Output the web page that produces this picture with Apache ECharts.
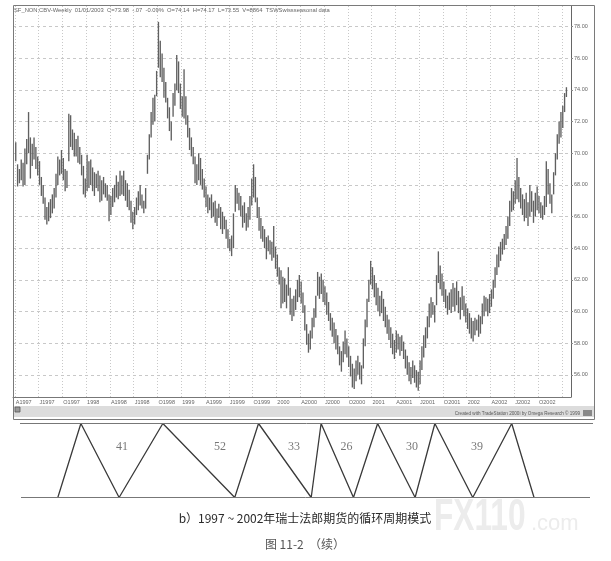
<!DOCTYPE html>
<html><head><meta charset="utf-8">
<script src="https://cdn.jsdelivr.net/npm/echarts@6/dist/echarts.min.js"></script>
<style>html,body{margin:0;padding:0;background:#fff}#c{width:611px;height:561px}</style>
</head><body><div id="c"></div>
<script>
const quarterLabels = ["A1997","J1997","O1997","1998","A1998","J1998","O1998","1999","A1999","J1999","O1999","2000","A2000","J2000","O2000","2001","A2001","J2001","O2001","2002","A2002","J2002","O2002"];
const priceTicks = [56,58,60,62,64,66,68,70,72,74,76,78];
const weekLows = [
69.5,67.9,68.1,68.3,67.9,68.0,69.3,70.0,68.4,69.2,
69.6,69.0,68.6,68.0,67.3,66.8,65.8,65.5,65.7,65.9,
66.2,66.5,67.2,68.0,68.6,68.7,68.3,67.6,67.8,69.5,
70.4,70.2,69.8,69.8,69.4,69.3,68.6,67.4,67.2,67.6,
67.8,68.0,67.6,67.3,67.8,67.6,66.9,67.0,67.4,67.2,
67.0,65.7,66.1,66.6,66.9,67.2,67.1,67.3,67.4,67.3,
67.0,66.6,66.4,65.6,65.2,65.5,66.1,66.4,66.7,66.5,
66.2,66.5,68.7,69.6,71.0,71.8,72.0,73.6,75.4,74.8,
74.5,73.5,73.2,72.2,71.4,70.8,72.3,73.0,74.0,73.8,
72.8,72.3,72.2,71.8,71.0,70.2,69.8,69.3,68.1,68.0,
68.3,68.0,67.7,67.2,66.6,66.2,66.4,65.9,66.0,65.6,
65.4,65.9,65.2,64.9,65.2,64.6,64.0,63.8,63.5,64.0,
66.3,66.8,66.4,66.0,65.3,65.6,65.1,65.3,65.8,66.7,
67.2,66.9,65.9,65.1,64.6,64.4,64.0,63.3,63.8,63.6,
63.2,63.4,62.7,62.2,61.7,60.2,60.5,
60.6,60.2,61.0,59.8,59.4,59.7,60.1,60.6,60.9,60.5,
59.9,58.8,57.9,57.4,57.6,58.3,59.0,59.6,61.0,60.8,
61.1,60.6,60.4,59.8,59.4,58.8,58.4,58.0,57.6,57.3,
56.6,56.2,56.8,57.3,57.1,56.5,55.9,55.2,55.1,55.6,
56.0,55.7,55.4,56.4,57.8,59.0,60.6,61.7,61.4,60.9,
60.4,60.0,59.7,59.9,59.4,59.0,58.6,58.2,57.7,57.3,
57.0,57.4,57.6,57.2,57.5,57.0,56.4,56.0,55.6,55.4,
55.8,55.5,55.2,55.0,55.4,56.3,57.1,57.7,58.3,59.0,
59.6,59.8,59.3,60.4,61.8,61.4,61.0,60.6,60.2,59.8,
60.1,59.9,60.3,60.0,60.4,59.9,59.5,60.1,59.7,59.3,
58.9,58.6,58.3,58.1,58.5,58.8,58.4,58.6,59.2,59.7,
60.0,59.7,59.9,60.3,60.8,61.5,62.3,62.8,63.2,63.6,
63.9,64.2,64.6,65.4,66.3,66.4,66.8,67.1,66.9,66.5,
66.1,65.7,65.9,65.4,66.0,66.3,65.6,66.0,66.4,66.2,
65.9,65.8,66.1,66.6,67.4,66.8,66.2,67.4,68.6,69.6,
70.6,71.0,71.6,72.6,73.55
];
const weekHighs = [
70.7,69.3,69.0,69.6,69.4,70.3,70.9,72.6,71.0,70.6,
71.0,70.4,69.8,69.5,68.5,68.0,67.2,66.6,66.9,67.1,
67.4,67.8,68.7,69.8,69.6,70.2,69.7,69.0,68.9,72.5,
72.4,71.5,71.3,70.9,71.1,70.4,69.9,69.2,68.4,69.9,
69.5,69.6,69.1,68.8,68.7,68.9,68.6,68.3,68.5,68.1,
68.0,67.4,67.3,67.8,68.0,68.6,68.2,68.9,68.6,68.9,
68.3,68.1,67.7,67.0,66.3,66.6,67.2,67.6,68.0,67.4,
67.0,67.8,69.9,71.2,72.6,73.5,73.7,75.2,78.3,77.1,
76.3,75.4,74.5,73.5,72.9,72.0,73.8,74.4,76.2,75.8,
74.4,73.6,75.3,73.6,72.4,71.6,71.0,70.4,69.8,69.3,
70.0,69.7,69.0,68.4,67.9,67.4,67.2,67.4,66.9,67.0,
66.5,66.8,66.6,66.3,66.0,65.8,65.2,64.6,64.8,66.2,
68.0,67.8,67.5,67.3,66.7,66.9,66.2,66.6,67.3,68.4,
69.3,68.5,67.2,66.6,65.9,65.4,65.2,64.7,64.8,64.5,
64.4,65.4,64.1,63.6,62.8,62.6,62.2,
62.1,61.7,62.8,61.5,60.8,61.0,61.4,62.0,62.3,61.9,
61.2,60.4,59.2,58.6,58.8,59.6,60.2,61.0,62.5,62.2,
62.4,62.0,61.6,61.2,60.6,59.9,59.6,59.3,58.9,58.5,
57.8,57.5,58.1,58.8,58.3,57.8,57.2,56.7,56.4,56.9,
57.2,56.8,56.6,58.3,59.5,60.8,62.0,63.2,62.8,62.3,
61.8,61.5,61.0,61.3,60.8,60.3,59.8,59.5,59.0,58.6,
58.2,58.8,58.6,58.4,58.5,58.1,57.6,57.2,56.8,56.5,
56.9,56.6,56.3,56.2,56.9,57.8,58.5,59.0,59.7,60.5,
60.9,60.6,60.4,62.3,63.8,62.9,62.4,61.9,61.4,61.0,
61.2,61.4,61.8,61.5,61.9,61.3,60.9,61.6,61.0,60.5,
60.2,59.9,59.6,59.4,59.6,59.5,59.8,59.7,60.5,61.0,
60.9,60.8,61.1,61.4,62.0,62.8,63.6,64.1,64.4,64.6,
64.9,65.4,66.0,67.0,67.8,67.6,68.3,69.7,68.5,67.8,
67.4,67.1,67.5,66.9,68.0,67.6,67.0,67.5,67.9,67.3,
66.9,66.7,67.3,69.5,69.0,68.1,67.4,68.8,70.0,71.2,
72.0,72.6,73.0,73.8,74.17
];
// cycle diagram turning points (week positions) and cycle lengths
const cycleWeeks = [23.0,35.6,56.5,80.4,119.7,132.7,161.5,166.9,184.6,197.8,218.3,229.1,249.8,271.1,283.3];
const cycleLevels = [0,1,0,1,0,1,0,1,0,1,0,1,0,1,0];
const cycleLengths = [41,52,33,26,30,39];
const cycleLabelWeeks = [58.1,111.6,152.1,180.8,216.6,252.1];
const headerText = "SF_NON.CBV-Weekly  01/01/2003  C=73.98  -.07  -0.09%  O=74.14  H=74.17  L=73.55  V=8864  TSWSwissseasonal data";
const footerText = "Created with TradeStation 2000i by Omega Research \u00a9 1999";
const captionText = "b\uff091997 ~ 2002\u5e74\u745e\u58eb\u6cd5\u90ce\u671f\u8d27\u7684\u5faa\u73af\u5468\u671f\u6a21\u5f0f";
const figureText = "\u56fe 11-2  \uff08\u7eed\uff09";

const PAD_BEFORE = 1, PAD_AFTER = 2;
const nCat = weekLows.length + PAD_BEFORE + PAD_AFTER;
const categories = [];
for (let k = 0; k < nCat; k++) categories.push('w' + k);
const barData = weekLows.map((lo, i) => [i + PAD_BEFORE, lo, weekHighs[i]]);

const chart = echarts.init(document.getElementById('c'), null, {renderer: 'canvas'});
const isQuarter = (index) => index >= PAD_BEFORE && (index - PAD_BEFORE) % 13 === 0;

chart.setOption({
  animation: false,
  backgroundColor: '#fff',
  grid: [
    {left: 13, top: 6, width: 558, height: 391, show: false},
    {left: 13, top: 423.5, width: 558, height: 74, show: false}
  ],
  xAxis: [
    {
      type: 'category', gridIndex: 0, data: categories, boundaryGap: true,
      axisLine: {show: true, lineStyle: {color: '#777', width: 1}},
      axisTick: {show: false},
      axisLabel: {
        interval: (index) => isQuarter(index) && (index - PAD_BEFORE) / 13 < quarterLabels.length,
        formatter: (v, index) => quarterLabels[(index - PAD_BEFORE) / 13] || '',
        align: 'left', fontSize: 5.5, color: '#666', margin: 2, fontFamily: 'Liberation Sans'
      },
      splitLine: {show: true, interval: (index) => isQuarter(index), lineStyle: {color: '#c8c8c8', type: [1, 2], width: 1}}
    },
    {type: 'value', gridIndex: 1, min: -1.5, max: 303.5, show: false}
  ],
  yAxis: [
    {
      type: 'value', gridIndex: 0, position: 'right', min: 54.6, max: 79.3,
      axisLine: {show: true, lineStyle: {color: '#666', width: 1}},
      axisTick: {show: true, length: 2, customValues: priceTicks, lineStyle: {color: '#888'}},
      axisLabel: {customValues: priceTicks, formatter: (v) => v.toFixed(2), fontSize: 5.5, color: '#666', margin: 3, fontFamily: 'Liberation Sans'},
      splitLine: {show: true, lineStyle: {color: '#c8c8c8', type: [3, 3], width: 1}}
    },
    {type: 'value', gridIndex: 1, min: 0, max: 1, show: false}
  ],
  series: [
    {
      type: 'custom', xAxisIndex: 0, yAxisIndex: 0, clip: true,
      data: barData,
      encode: {x: 0, y: [1, 2]},
      renderItem: (params, api) => {
        const x = api.value(0);
        const p1 = api.coord([x, api.value(1)]);
        const p2 = api.coord([x, api.value(2)]);
        return {type: 'line', shape: {x1: p1[0], y1: p1[1], x2: p2[0], y2: p2[1]},
                style: {stroke: '#606060', lineWidth: 1.35}};
      }
    },
    {
      type: 'line', xAxisIndex: 1, yAxisIndex: 1, symbol: 'none',
      data: cycleWeeks.map((w, i) => [w, cycleLevels[i]]),
      lineStyle: {color: '#3a3a3a', width: 1.3}
    },
    {
      type: 'scatter', xAxisIndex: 1, yAxisIndex: 1, symbolSize: 0,
      data: cycleLabelWeeks.map((w, i) => ({value: [w, 0.68], name: String(cycleLengths[i])})),
      label: {show: true, position: 'inside', formatter: (p) => p.name, fontFamily: 'Liberation Serif', fontSize: 12, color: '#555'}
    }
  ],
  graphic: [
    {type: 'rect', shape: {x: 13.5, y: 5.5, width: 581, height: 414}, style: {fill: 'none', stroke: '#7a7a7a', lineWidth: 1}, z: 10},
    {type: 'rect', shape: {x: 14, y: 406, width: 580, height: 11}, style: {fill: '#dcdcdc'}, z: 9},
    {type: 'rect', shape: {x: 15, y: 407, width: 5, height: 5}, style: {fill: '#999', stroke: '#555', lineWidth: 0.8}, z: 11},
    {type: 'rect', shape: {x: 583, y: 410, width: 9, height: 6}, style: {fill: '#888'}, z: 11},
    {type: 'text', x: 580, y: 413.5, style: {text: footerText, fontSize: 4.6, fill: '#555', align: 'right', verticalAlign: 'middle', fontFamily: 'Liberation Sans'}, z: 11},
    {type: 'text', x: 14, y: 10.5, style: {text: headerText, fontSize: 5.8, fill: '#666', align: 'left', verticalAlign: 'middle', fontFamily: 'Liberation Sans'}, z: 11},
    {type: 'line', shape: {x1: 20, y1: 423.5, x2: 593, y2: 423.5}, style: {stroke: '#777', lineWidth: 1}, z: 10},
    {type: 'line', shape: {x1: 21, y1: 497.5, x2: 590, y2: 497.5}, style: {stroke: '#777', lineWidth: 1}, z: 10},
    {type: 'text', x: 305, y: 518, style: {text: captionText, fontSize: 12, fill: '#2a2a2a', align: 'center', verticalAlign: 'middle', fontFamily: 'Noto Sans CJK SC'}, z: 11},
    {type: 'text', x: 305, y: 544, style: {text: figureText, fontSize: 12, fill: '#555', align: 'center', verticalAlign: 'middle', fontFamily: 'Noto Sans CJK SC'}, z: 11},
    {type: 'text', x: 434, y: 518, scaleX: 0.72, style: {text: 'FX110', fontSize: 44, fontWeight: 'bold', fill: '#ececec', align: 'left', verticalAlign: 'middle', fontFamily: 'Liberation Sans'}, z: 1},
    {type: 'text', x: 531, y: 524, style: {text: '.com', fontSize: 22, fill: '#ececec', align: 'left', verticalAlign: 'middle', fontFamily: 'Liberation Sans'}, z: 1}
  ]
});
</script></body></html>
